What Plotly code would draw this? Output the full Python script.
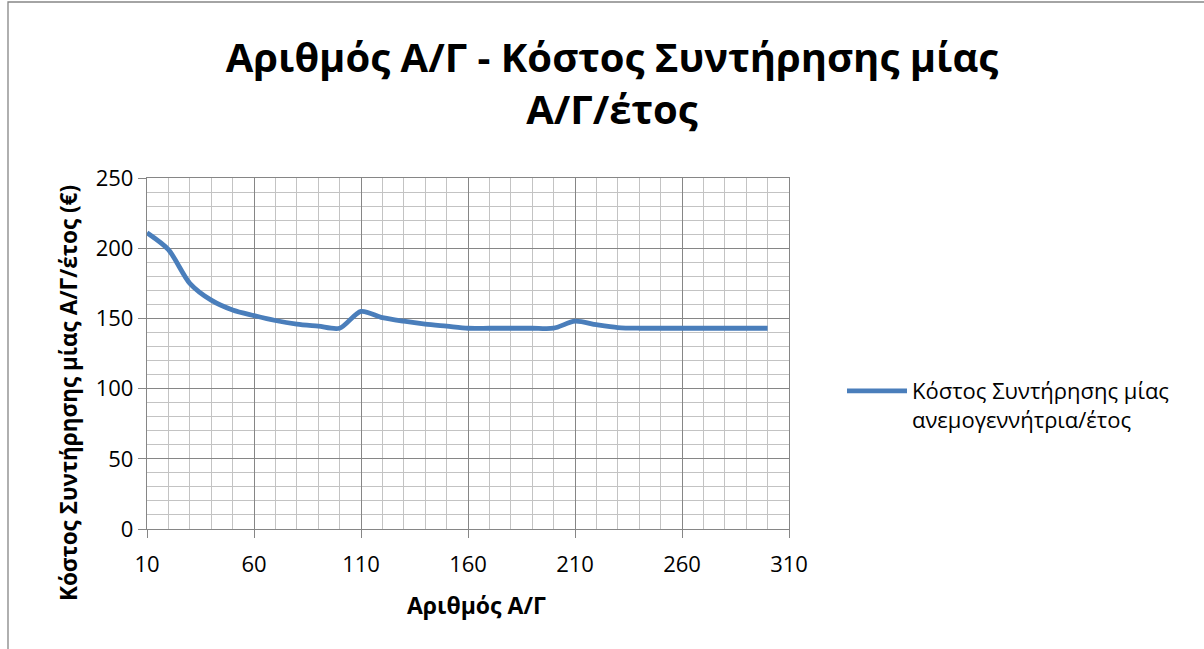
import plotly.graph_objects as go

# Number of wind turbines and yearly maintenance cost per turbine
turbines = [10, 20, 30, 40, 50, 60, 70, 80, 90, 100,
            110, 120, 130, 140, 150, 160, 170, 180, 190, 200,
            210, 220, 230, 240, 250, 260, 270, 280, 290, 300]
cost_per_turbine = [211, 199, 175, 163, 156, 152, 148.5, 146, 144.5, 143,
                    155, 150.5, 148, 146, 144.5, 143, 143, 143, 143, 143,
                    148, 145.5, 143.5, 143, 143, 143, 143, 143, 143, 143]

series_name = "Κόστος Συντήρησης μίας<br>ανεμογεννήτρια/έτος"
title_text = "<b>Αριθμός Α/Γ - Κόστος Συντήρησης μίας<br>Α/Γ/έτος</b>"
x_title = "<b>Αριθμός Α/Γ</b>"
y_title = "<b>Κόστος Συντήρησης μίας Α/Γ/έτος (€)</b>"

FONT = "Open Sans"
MAJOR = "#868686"
MINOR = "#c3c3c3"
W, H = 1204, 649
L, R, T, B = 147, 415, 178, 120
PW, PH = W - L - R, H - T - B

fig = go.Figure()
fig.add_trace(go.Scatter(
    x=turbines, y=cost_per_turbine, mode="lines", name=series_name,
    line=dict(color="#4a7ebb", width=4.8, shape="spline", smoothing=0.8),
    showlegend=True,
))

fig.update_layout(
    width=W, height=H,
    margin=dict(l=L, r=R, t=T, b=B),
    paper_bgcolor="white", plot_bgcolor="white",
    font=dict(family=FONT, color="black"),
    title=dict(text=title_text, x=612 / W, xanchor="center",
               yref="container", y=1 - 72 / H, yanchor="middle",
               font=dict(family=FONT, size=40, color="black")),
    legend=dict(x=(842 - L) / PW, xanchor="left", y=(H - B - 370) / PH, yanchor="top",
                font=dict(family=FONT, size=22, color="black"),
                bgcolor="rgba(0,0,0,0)", itemwidth=60, valign="top"),
    shapes=[dict(type="rect", xref="paper", yref="paper",
                 x0=-(L - 8) / PW, x1=1.8, y0=-1.0, y1=(H - B - 2) / PH,
                 line=dict(color="#868686", width=1.3), fillcolor="rgba(0,0,0,0)",
                 layer="below")],
    annotations=[
        dict(text=x_title, xref="paper", yref="paper",
             x=(477 - L) / PW, y=-(605 - (H - B)) / PH, xanchor="center", yanchor="middle",
             showarrow=False, font=dict(family=FONT, size=23, color="black")),
        dict(text=y_title, xref="paper", yref="paper", textangle=-90,
             x=-(L - 68) / PW, y=((H - B) - 393) / PH, xanchor="center", yanchor="middle",
             showarrow=False, font=dict(family=FONT, size=22.5, color="black")),
    ],
)

fig.update_xaxes(
    range=[10, 310], tick0=10, dtick=50, tickmode="linear",
    showgrid=True, gridcolor=MAJOR, gridwidth=1.3,
    minor=dict(dtick=10, tick0=10, showgrid=True, gridcolor=MINOR, gridwidth=1.3),
    showline=True, linecolor=MAJOR, linewidth=1.3, mirror=True,
    ticks="outside", ticklen=8, tickcolor=MAJOR, tickwidth=1.3,
    ticklabelstandoff=7,
    tickfont=dict(family=FONT, size=22, color="black"),
    zeroline=False,
)
fig.update_yaxes(
    range=[0, 250], tick0=0, dtick=50, tickmode="linear",
    showgrid=True, gridcolor=MAJOR, gridwidth=1.3,
    minor=dict(dtick=10, showgrid=True, gridcolor=MINOR, gridwidth=1.3),
    showline=True, linecolor=MAJOR, linewidth=1.3, mirror=True,
    ticks="outside", ticklen=8, tickcolor=MAJOR, tickwidth=1.3,
    tickfont=dict(family=FONT, size=22, color="black"),
    zeroline=False,
)

fig.write_html("out.html")
